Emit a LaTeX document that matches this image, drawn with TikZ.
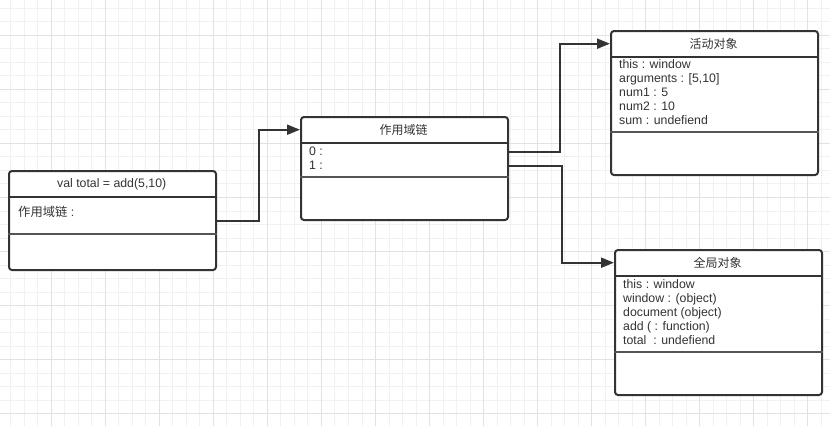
\documentclass[tikz,border=0pt]{standalone}
\usepackage{fontspec}
\setmainfont{Liberation Sans}
\newfontfamily\cjk{Noto Sans CJK SC}
\usetikzlibrary{arrows.meta,calc}
\definecolor{ink}{HTML}{333333}
\definecolor{gridminor}{HTML}{F1F1F1}
\definecolor{gridmajor}{HTML}{E2E2E2}
\definecolor{sepgray}{HTML}{555555}
\tikzset{
  umlbox/.style={draw=ink, line width=2pt, rounded corners=3pt, fill=white, anchor=north west, inner sep=0pt},
  headtxt/.style={text=ink, font=\fontsize{12}{14}\selectfont\cjk, inner sep=0pt, anchor=center},
  rowtxt/.style={text=ink, font=\fontsize{12.3}{14}\selectfont, inner sep=0pt, anchor=west, text height=8.5pt, text depth=2.5pt},
  hdiv/.style={draw=ink, line width=1.8pt},
  sdiv/.style={draw=sepgray, line width=1.8pt},
  conn/.style={draw=ink, line width=2pt, -{Triangle[length=13pt,width=10pt]}},
}
\begin{document}
\begin{tikzpicture}[x=1pt,y=-1pt]
\useasboundingbox (0,0) rectangle (830,426);
\fill[white] (0,0) rectangle (830,426);
% grid
\foreach \i in {0,...,61} {
  \draw[gridminor, line width=0.9pt] ({10.7+13.51*\i},0) -- ({10.7+13.51*\i},426);
}
\foreach \i in {0,...,31} {
  \draw[gridminor, line width=0.9pt] (0,{8.3+13.51*\i}) -- (830,{8.3+13.51*\i});
}
\foreach \i in {0,...,15} {
  \draw[gridmajor, line width=0.9pt] ({51.3+54.04*\i},0) -- ({51.3+54.04*\i},426);
}
\foreach \i in {0,...,7} {
  \draw[gridmajor, line width=0.9pt] (0,{35+54.04*\i}) -- (830,{35+54.04*\i});
}

% Box A
\node[umlbox, minimum width=207pt, minimum height=99pt] (A) at (8,170) {};
\node[inner sep=0pt, minimum width=207pt, minimum height=26.7pt, anchor=north west] (Ah) at (8,170) {};
\node[headtxt, font=\fontsize{12.3}{14}\selectfont] (At) at ([yshift=-0.5pt]Ah.center) {val total = add(5,10)};
\draw[hdiv] (A.west |- 0,196.7) -- (A.east |- 0,196.7);
\node[rowtxt] (a0) at (18,213) {{\cjk 作用域链} :};
\draw[sdiv] (A.west |- 0,234) -- (A.east |- 0,234);

% Box B
\node[umlbox, minimum width=207pt, minimum height=103pt] (B) at (300,116) {};
\node[inner sep=0pt, minimum width=207pt, minimum height=27pt, anchor=north west] (Bh) at (300,116) {};
\node[headtxt] (Bt) at (Bh.center) {作用域链};
\draw[hdiv] (B.west |- 0,143) -- (B.east |- 0,143);
\node[rowtxt] (b0) at (309,152) {0 :};
\node[rowtxt] (b1) at (309,166) {1 :};
\draw[sdiv] (B.west |- 0,177) -- (B.east |- 0,177);

% Box C
\node[umlbox, minimum width=207pt, minimum height=144pt] (C) at (610,30) {};
\node[inner sep=0pt, minimum width=207pt, minimum height=27pt, anchor=north west] (Ch) at (610,30) {};
\node[headtxt] (Ct) at (Ch.center) {活动对象};
\draw[hdiv] (C.west |- 0,57) -- (C.east |- 0,57);
\node[rowtxt] (c0) at (619,65.5) {this : window};
\node[rowtxt] (c1) at (619,79.5) {arguments : [5,10]};
\node[rowtxt] (c2) at (619,93.5) {num1 : 5};
\node[rowtxt] (c3) at (619,107.5) {num2 : 10};
\node[rowtxt] (c4) at (619,121.5) {sum : undefiend};
\draw[sdiv] (C.west |- 0,132) -- (C.east |- 0,132);

% Box D
\node[umlbox, minimum width=207pt, minimum height=145pt] (D) at (614,249) {};
\node[inner sep=0pt, minimum width=207pt, minimum height=27pt, anchor=north west] (Dh) at (614,249) {};
\node[headtxt] (Dt) at (Dh.center) {全局对象};
\draw[hdiv] (D.west |- 0,276) -- (D.east |- 0,276);
\node[rowtxt] (d0) at (623,285.5) {this : window};
\node[rowtxt] (d1) at (623,299.5) {window : (object)};
\node[rowtxt] (d2) at (623,313.5) {document (object)};
\node[rowtxt] (d3) at (623,327.5) {add ( : function)};
\node[rowtxt] (d4) at (623,341.5) {total~ : undefiend};
\draw[sdiv] (D.west |- 0,352) -- (D.east |- 0,352);

% connectors
\draw[conn] (A.east) -- ++(42,0) |- (Bh.west);
\draw[conn] (B.east |- b0) -- ++(51,0) |- (Ch.west);
\draw[conn] (B.east |- b1) -- ++(53,0) |- (Dh.west);
\end{tikzpicture}
\end{document}
